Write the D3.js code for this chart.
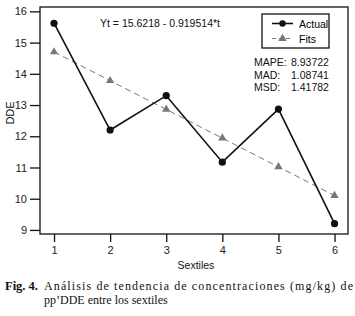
<!DOCTYPE html>
<html>
<head>
<meta charset="utf-8">
<script src="https://cdn.jsdelivr.net/npm/d3@7"></script>
<style>
  body { margin: 0; background: #fff; }
  svg text { font-family: "Liberation Sans", Arial, sans-serif; }
</style>
</head>
<body>
<script>
const sextiles = [1, 2, 3, 4, 5, 6];
const actual = [15.62, 12.2, 13.3, 11.17, 12.87, 9.2];
const fits = [14.70, 13.78, 12.86, 11.94, 11.02, 10.10];
const yTicks = [9, 10, 11, 12, 13, 14, 15, 16];
const statNames = ["MAPE:", "MAD:", "MSD:"];
const statValues = ["8.93722", "1.08741", "1.41782"];

const w = 355, h = 316;
const svg = d3.select("body").append("svg")
  .attr("width", w).attr("height", h);

const plotL = 40, plotR = 348, plotT = 7, plotB = 234;

const xScale = d3.scaleLinear().domain([0.75, 6.24]).range([plotL, plotR]);
const yScale = d3.scaleLinear().domain([8.87, 16.14]).range([plotB, plotT]);

// axes
const xAxis = d3.axisBottom(xScale).tickValues(sextiles).tickFormat(d3.format("d"))
  .tickSize(8).tickSizeOuter(0).tickPadding(4);
const yAxis = d3.axisLeft(yScale).tickValues(yTicks).tickFormat(d3.format("d"))
  .tickSize(10).tickSizeOuter(0).tickPadding(3);

const gx = svg.append("g").attr("transform", `translate(0, ${plotB})`).call(xAxis);
const gy = svg.append("g").attr("transform", `translate(${plotL}, 0)`).call(yAxis);
[gx, gy].forEach(g => {
  g.select(".domain").remove();
  g.selectAll("line").attr("stroke", "#111").attr("stroke-width", 1.3);
  g.selectAll("text").attr("fill", "#222").style("font-size", "11px");
});

svg.append("rect")
  .attr("x", plotL).attr("y", plotT)
  .attr("width", plotR - plotL).attr("height", plotB - plotT)
  .attr("fill", "none").attr("stroke", "#111").attr("stroke-width", 1.3);

// fits line
const line = d3.line().x((d, i) => xScale(sextiles[i])).y(d => yScale(d));
svg.append("path").datum(fits)
  .attr("d", line).attr("fill", "none")
  .attr("stroke", "#777").attr("stroke-width", 1).attr("stroke-dasharray", "6,4");

const tri = d3.symbol().type(d3.symbolTriangle).size(30);
svg.append("g").selectAll("path").data(fits).enter().append("path")
  .attr("d", tri)
  .attr("transform", (d, i) => `translate(${xScale(sextiles[i])}, ${yScale(d)})`)
  .attr("fill", "#777");

// actual line
svg.append("path").datum(actual)
  .attr("d", line).attr("fill", "none")
  .attr("stroke", "#111").attr("stroke-width", 1.6);
svg.append("g").selectAll("circle").data(actual).enter().append("circle")
  .attr("cx", (d, i) => xScale(sextiles[i]))
  .attr("cy", d => yScale(d))
  .attr("r", 3.6).attr("fill", "#111");

// equation
svg.append("text").attr("x", 100).attr("y", 27)
  .style("font-size", "10.5px").attr("fill", "#111")
  .text("Yt = 15.6218 - 0.919514*t");

// legend
const legend = svg.append("g").attr("transform", "translate(262, 14)");
legend.append("rect").attr("width", 67).attr("height", 34)
  .attr("fill", "#fff").attr("stroke", "#111").attr("stroke-width", 1.3);
legend.append("line").attr("x1", 10).attr("x2", 31).attr("y1", 9.5).attr("y2", 9.5)
  .attr("stroke", "#111").attr("stroke-width", 1.6);
legend.append("circle").attr("cx", 20.5).attr("cy", 9.5).attr("r", 3.2).attr("fill", "#111");
legend.append("text").attr("x", 37).attr("y", 13.5).style("font-size", "10.5px").text("Actual");
legend.append("line").attr("x1", 10).attr("x2", 31).attr("y1", 24.5).attr("y2", 24.5)
  .attr("stroke", "#777").attr("stroke-dasharray", "4,3");
legend.append("path").attr("d", tri).attr("transform", "translate(20.5, 24.5)").attr("fill", "#777");
legend.append("text").attr("x", 37).attr("y", 28.5).style("font-size", "10.5px").text("Fits");

// accuracy measures
const stats = svg.append("g");
statNames.forEach((n, i) => {
  stats.append("text").attr("x", 254).attr("y", 66 + i * 12.6)
    .style("font-size", "10.5px").attr("fill", "#111").text(n);
  stats.append("text").attr("x", 291).attr("y", 66 + i * 12.6)
    .style("font-size", "10.5px").attr("fill", "#111").text(statValues[i]);
});

// axis titles
svg.append("text").attr("transform", "translate(14, 113) rotate(-90)")
  .attr("text-anchor", "middle").style("font-size", "11px").attr("fill", "#111").text("DDE");
svg.append("text").attr("x", 196).attr("y", 269)
  .attr("text-anchor", "middle").style("font-size", "10.5px").attr("fill", "#111").text("Sextiles");

// caption
const serif = "'Liberation Serif', 'Times New Roman', serif";
svg.append("text").attr("x", 5).attr("y", 290).attr("fill", "#111")
  .style("font-family", serif).style("font-size", "12.5px").style("font-weight", "bold")
  .text("Fig. 4.");
svg.append("text").attr("x", 44).attr("y", 290).attr("fill", "#111")
  .attr("textLength", 309).attr("lengthAdjust", "spacing")
  .style("font-family", serif).style("font-size", "12px")
  .text("Análisis de tendencia de concentraciones (mg/kg) de");
svg.append("text").attr("x", 44).attr("y", 304).attr("fill", "#111")
  .style("font-family", serif).style("font-size", "12px")
  .text("pp’DDE entre los sextiles");
</script>
</body>
</html>
